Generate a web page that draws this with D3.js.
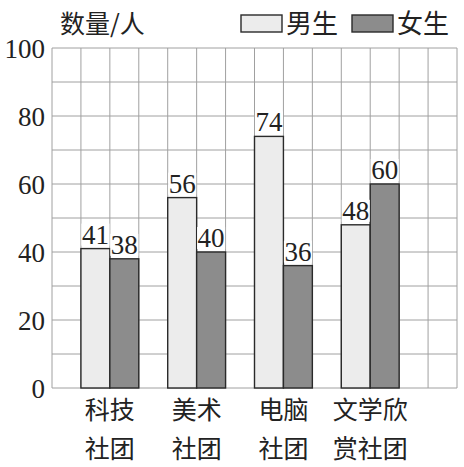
<!DOCTYPE html>
<html>
<head>
<meta charset="utf-8">
<script src="https://cdn.jsdelivr.net/npm/d3@7"></script>
<style>
  body { margin: 0; background: #fff; }
  svg { display: block; }
  .num { font-family: "Liberation Serif", "Times New Roman", serif; }
  .cjk { font-family: "Noto Sans CJK SC", sans-serif; }
</style>
</head>
<body>
<div id="chart"></div>
<script>
// data
let clubs = [["科技", "社团"], ["美术", "社团"], ["电脑", "社团"], ["文学欣", "赏社团"]];
let boys = [41, 56, 74, 48];
let girls = [38, 40, 36, 60];
let yTicks = [0, 20, 40, 60, 80, 100];
let seriesNames = ["男生", "女生"];

let W = 464, H = 467;
let fills = ["#ececec", "#8c8c8c"];

let svg = d3.select("#chart").append("svg")
    .attr("width", W)
    .attr("height", H);

// 14 grid columns, bars sit in columns 1-2, 4-5, 7-8, 10-11
let x = d3.scaleLinear().domain([0, 14]).range([52, 457]);
let y = d3.scaleLinear().domain([0, 100]).range([388, 48]);

// grid
let grid = svg.append("g").attr("stroke", "#a0a0a0").attr("stroke-width", 1);
d3.range(0, 15).forEach(function(i) {
    grid.append("line")
        .attr("x1", x(i)).attr("x2", x(i))
        .attr("y1", y(100)).attr("y2", y(0));
});
d3.range(0, 101, 10).forEach(function(v) {
    grid.append("line")
        .attr("x1", x(0)).attr("x2", x(14))
        .attr("y1", y(v)).attr("y2", y(v));
});

// y tick labels
svg.append("g").selectAll("text")
    .data(yTicks)
    .enter().append("text")
    .attr("class", "num")
    .attr("x", 45)
    .attr("y", function(d) { return y(d) + 10; })
    .attr("text-anchor", "end")
    .style("font-size", "27px")
    .attr("fill", "#222")
    .text(function(d) { return d; });

// bars
let bars = [];
clubs.forEach(function(c, i) {
    bars.push({col: 3 * i + 1, v: boys[i], s: 0});
    bars.push({col: 3 * i + 2, v: girls[i], s: 1});
});

svg.append("g").selectAll("rect")
    .data(bars)
    .enter().append("rect")
    .attr("x", function(d) { return x(d.col); })
    .attr("y", function(d) { return y(d.v); })
    .attr("width", x(1) - x(0))
    .attr("height", function(d) { return y(0) - y(d.v); })
    .attr("fill", function(d) { return fills[d.s]; })
    .attr("stroke", "#2a2a2a")
    .attr("stroke-width", 1.4);

// value labels with white backing
let labels = svg.append("g").selectAll("g")
    .data(bars)
    .enter().append("g");

labels.append("rect")
    .attr("x", function(d) { return x(d.col + 0.5) - 14; })
    .attr("y", function(d) { return y(d.v) - 25; })
    .attr("width", 28)
    .attr("height", 22)
    .attr("fill", "#fff");

labels.append("text")
    .attr("class", "num")
    .attr("x", function(d) { return x(d.col + 0.5); })
    .attr("y", function(d) { return y(d.v) - 5; })
    .attr("text-anchor", "middle")
    .style("font-size", "27px")
    .attr("fill", "#222")
    .text(function(d) { return d.v; });

// category labels, two rows
let cats = svg.append("g").selectAll("text")
    .data(clubs)
    .enter().append("text")
    .attr("class", "cjk")
    .attr("text-anchor", "middle")
    .style("font-size", "25px")
    .attr("fill", "#222");

cats.each(function(d, i) {
    let t = d3.select(this);
    d.forEach(function(line, k) {
        t.append("tspan")
            .attr("x", x(3 * i + 2))
            .attr("y", 419 + k * 39)
            .text(line);
    });
});

// axis title
svg.append("text")
    .attr("class", "cjk")
    .attr("x", 60)
    .attr("y", 33)
    .style("font-size", "25px")
    .attr("fill", "#222")
    .text("数量/人");

// legend
let legendX = [241, 352];
let legend = svg.append("g").selectAll("g")
    .data(seriesNames)
    .enter().append("g")
    .attr("transform", function(d, i) { return "translate(" + legendX[i] + ",15)"; });

legend.append("rect")
    .attr("width", 41)
    .attr("height", 17)
    .attr("fill", function(d, i) { return fills[i]; })
    .attr("stroke", "#2a2a2a")
    .attr("stroke-width", 1.4);

legend.append("text")
    .attr("class", "cjk")
    .attr("x", 45)
    .attr("y", 18)
    .style("font-size", "26px")
    .attr("fill", "#222")
    .text(function(d) { return d; });
</script>
</body>
</html>
